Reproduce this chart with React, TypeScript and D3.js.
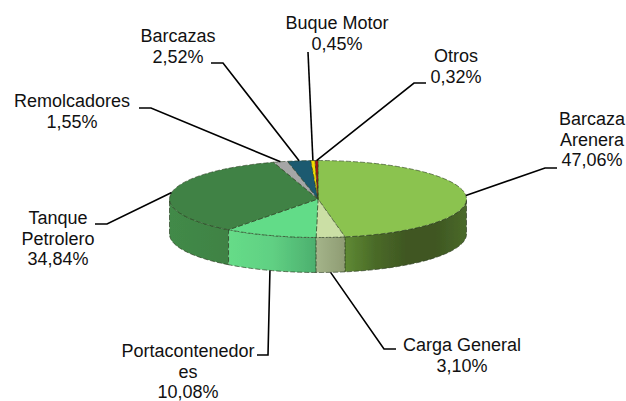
import React from 'react'
import * as d3 from 'd3'

const categories = ['Barcaza Arenera', 'Carga General', 'Portacontenedores', 'Tanque Petrolero', 'Remolcadores', 'Barcazas', 'Buque Motor', 'Otros']
const values = [47.06, 3.10, 10.08, 34.84, 1.55, 2.52, 0.45, 0.32]
const valueLabels = ['47,06%', '3,10%', '10,08%', '34,84%', '1,55%', '2,52%', '0,45%', '0,32%']
const labelLines = [
  ['Barcaza', 'Arenera', '47,06%'],
  ['Carga General', '3,10%'],
  ['Portacontenedor', 'es', '10,08%'],
  ['Tanque', 'Petrolero', '34,84%'],
  ['Remolcadores', '1,55%'],
  ['Barcazas', '2,52%'],
  ['Buque Motor', '0,45%'],
  ['Otros', '0,32%'],
]
const topColors = ['#8BC34F', '#CBDFA5', '#62DC88', '#3F8244', '#A6A6A6', '#1B5A70', '#F2DC00', '#A01818']
const sideStops = [
  ['#5F8A33', '#4A6A28', '#3F5722', '#3F5722', '#4A6A2A'],
  ['#A4B48A', '#8F9C73'],
  ['#66DC88', '#60D083', '#4CAF6E'],
  ['#428A48', '#3F8244'],
  ['#808080', '#808080'],
  ['#134454', '#134454'],
  ['#B09F00', '#B09F00'],
  ['#701010', '#701010'],
]

// layout
const W = 626
const H = 401
const cx = 318
const cy = 199
const rx = 148.5
const ry = 38.5
const depth = 35
const labelCenters = [592, 462, 188, 58, 72, 178, 337, 456]
const labelBaselines = [125, 351, 357, 224, 107, 42, 29, 62]
const lineStep = 20.6
// label end of each leader, then elbow
const leaderEnds = [[557, 168], [396, 349], [257, 355], [95, 224], [139, 108], [211, 63], [308, 52], [426, 83]]
const leaderElbows = [[545, 168], [384, 349], [268, 355], [107, 224], [151, 108], [223, 63], [308, 52], [414, 83]]

const pieGen = d3.pie<number>().value(d => d).sort(null).startAngle(0).endAngle(2 * Math.PI)
const arcs = pieGen(values)
const arcGen = d3.arc<d3.PieArcDatum<number>>().innerRadius(0).outerRadius(rx)

const px = (a: number) => cx + rx * Math.sin(a)
const py = (a: number) => cy - ry * Math.cos(a)

// outer wall of a slice, front half of the ellipse only
function wallPath(a0: number, a1: number) {
  const lo = Math.max(a0, Math.PI / 2)
  const hi = Math.min(a1, (3 * Math.PI) / 2)
  if (hi <= lo) return null
  const steps = d3.range(0, 41).map(i => lo + ((hi - lo) * i) / 40)
  const area = d3.area<number>().x(px).y0(py).y1(a => py(a) + depth)
  return { d: area(steps) as string, x0: px(lo), x1: px(hi) }
}

function leaderStart(d: d3.PieArcDatum<number>) {
  const mid = (d.startAngle + d.endAngle) / 2
  const x = px(mid)
  const y = py(mid)
  return Math.cos(mid) < -0.5 ? [x, y + depth] : [x, y]
}

const wallOrder = arcs.map((d, i) => i).sort((a, b) => Math.abs(Math.PI - (arcs[b].startAngle + arcs[b].endAngle) / 2) - Math.abs(Math.PI - (arcs[a].startAngle + arcs[a].endAngle) / 2))

export default function App() {
  return (
    <svg width={W} height={H} style={{ position: 'absolute', left: 0, top: 0, background: '#fff' }} fontFamily="'Liberation Sans', Arial, sans-serif" fontSize={18} fill="#111">
      <defs>
        <filter id="soft" x="-5%" y="-5%" width="110%" height="110%">
          <feGaussianBlur stdDeviation="0.45" />
        </filter>
        {arcs.map((d, i) => {
          const wall = wallPath(d.startAngle, d.endAngle)
          if (!wall) return null
          const stops = sideStops[i]
          return (
            <linearGradient key={i} id={`side${i}`} gradientUnits="userSpaceOnUse" x1={wall.x1} x2={wall.x0} y1={0} y2={0}>
              {stops.map((c, j) => <stop key={j} offset={j / (stops.length - 1)} stopColor={c} />)}
            </linearGradient>
          )
        })}
      </defs>
      <g filter="url(#soft)">
        {wallOrder.map(i => {
          const wall = wallPath(arcs[i].startAngle, arcs[i].endAngle)
          if (!wall) return null
          return <path key={i} d={wall.d} fill={`url(#side${i})`} stroke="#26381c" strokeOpacity={0.65} strokeWidth={1} strokeDasharray="5 2" />
        })}
        <g transform={`translate(${cx},${cy}) scale(1,${ry / rx})`}>
          {arcs.map((d, i) => (
            <path key={categories[i]} d={arcGen(d) as string} fill={topColors[i]} stroke="#26381c" strokeOpacity={0.65} strokeWidth={0.9} strokeDasharray="5 2" vectorEffect="non-scaling-stroke" />
          ))}
        </g>
      </g>
      {arcs.map((d, i) => {
        const [sx, sy] = leaderStart(d)
        const line = d3.line()([[sx, sy], leaderElbows[i] as [number, number], leaderEnds[i] as [number, number]]) as string
        return <path key={i} d={line} fill="none" stroke="#000" strokeWidth={1.6} />
      })}
      {labelLines.map((lines, i) => (
        <text key={i} textAnchor="middle" aria-label={`${categories[i]} ${valueLabels[i]}`}>
          {lines.map((t, j) => (
            <tspan key={j} x={labelCenters[i]} y={labelBaselines[i] + j * lineStep}>{t}</tspan>
          ))}
        </text>
      ))}
    </svg>
  )
}
